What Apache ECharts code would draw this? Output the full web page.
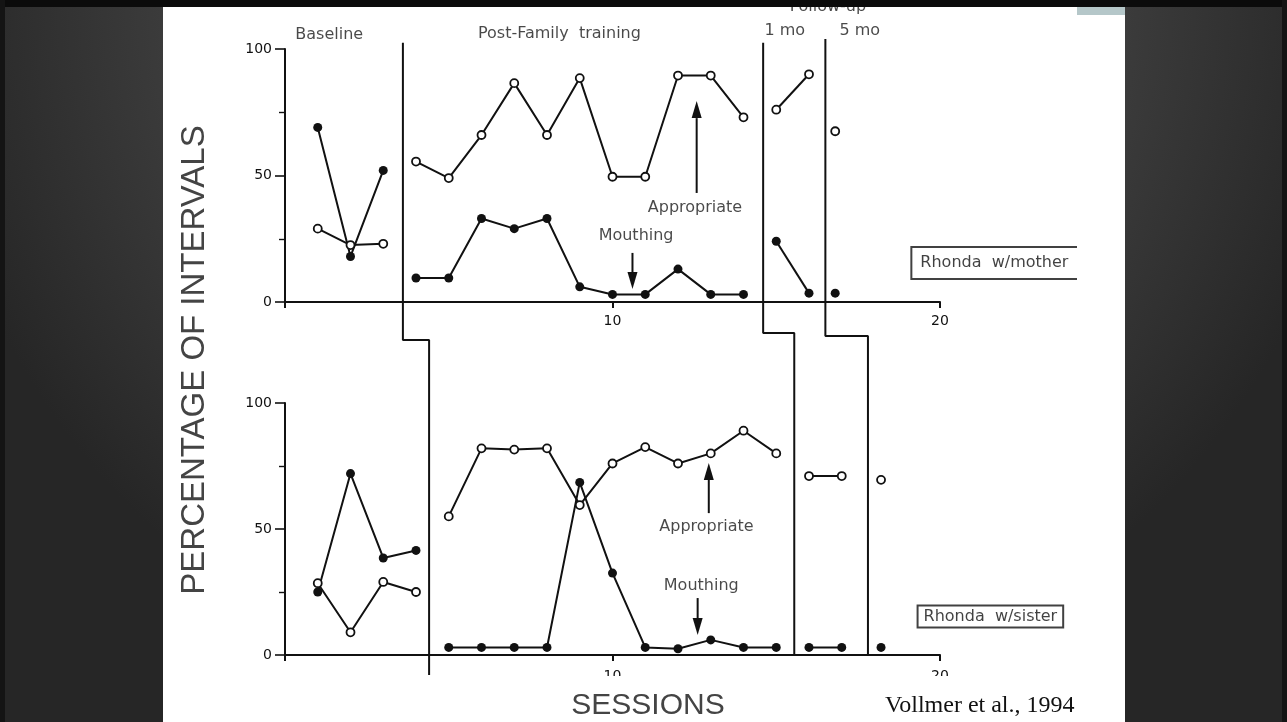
<!DOCTYPE html>
<html><head><meta charset="utf-8">
<script src="https://cdn.jsdelivr.net/npm/echarts@6/dist/echarts.min.js"></script>
<style>html,body{margin:0;padding:0;background:#2a2a2a;}#c{width:1287px;height:722px;}</style>
</head><body><div id="c"></div>
<script>
// ---------- Data ----------
// Rhonda w/mother (top panel)
const motherBaseSessions = [1, 2, 3];
const motherBaseMouthing = [69, 18, 52];
const motherBaseAppropriate = [29, 22.5, 23];
const motherPostSessions = [4, 5, 6, 7, 8, 9, 10, 11, 12, 13, 14];
const motherPostMouthing = [9.5, 9.5, 33, 29, 33, 6, 3, 3, 13, 3, 3];
const motherPostAppropriate = [55.5, 49, 66, 86.5, 66, 88.5, 49.5, 49.5, 89.5, 89.5, 73];
const mother1moSessions = [15, 16];
const mother1moMouthing = [24, 3.5];
const mother1moAppropriate = [76, 90];
const mother5moSessions = [16.8];
const mother5moMouthing = [3.5];
const mother5moAppropriate = [67.5];

// Rhonda w/sister (bottom panel)
const sisterBaseSessions = [1, 2, 3, 4];
const sisterBaseMouthing = [25, 72, 38.5, 41.5];
const sisterBaseAppropriate = [28.5, 9, 29, 25];
const sisterPostSessions = [5, 6, 7, 8, 9, 10, 11, 12, 13, 14, 15];
const sisterPostMouthing = [3, 3, 3, 3, 68.5, 32.5, 3, 2.5, 6, 3, 3];
const sisterPostAppropriate = [55, 82, 81.5, 82, 59.5, 76, 82.5, 76, 80, 89, 80];
const sister1moSessions = [16, 17];
const sister1moMouthing = [3, 3];
const sister1moAppropriate = [71, 71];
const sister5moSessions = [18.2];
const sister5moMouthing = [3];
const sister5moAppropriate = [69.5];

// Phase-change lines (session positions; y in top-panel units)
const phaseTopX = [3.6, 14.6, 16.5];
const phaseBottomX = [4.4, 15.55, 17.8];
const phaseTopY = [102.5, 102.5, 104];
const phaseStepY = [-15, -12.3, -13.4];
const phaseEndY = [-147.4, -139.5, -139.5];

// Tick labels
const xTickLabels = ['', '10', '20'];
const yTickLabels = ['0', '50', '100'];

// Phase labels (top panel)
const phaseLabels = ['Baseline', 'Post-Family  training', '1 mo', '5 mo', 'Follow-up'];
const phaseLabelX = [1.35, 8.38, 15.26, 17.55, 16.58];
const phaseLabelY = [105.5, 105.9, 107.1, 107.1, 116.6];

// Annotations
const motherNotes = ['Appropriate', 'Mouthing'];
const motherNoteX = [12.52, 10.72];
const motherNoteY = [37.2, 26.1];
const sisterNotes = ['Appropriate', 'Mouthing'];
const sisterNoteX = [12.87, 12.71];
const sisterNoteY = [50.8, 27.4];

// Arrows: [grid, x, from, to]
const arrowGrid = [0, 0, 1, 1];
const arrowX = [12.57, 10.61, 12.94, 12.6];
const arrowFrom = [43.1, 19.4, 56.3, 22.6];
const arrowTo = [79.4, 5.1, 76.2, 7.9];

// Panel identification boxes
const panelNames = ['Rhonda  w/mother', 'Rhonda  w/sister'];
const panelNameX = [19.11, 19.3];
const panelNameY = [15.4, 15.3];

// ---------- Chart ----------
const FONT = 'DejaVu Sans';
const INK = '#111';
function pts(xs, ys) { return xs.map((x, i) => [x, ys[i]]); }

function behavior(xs, ys, filled, g) {
  return {
    type: 'line', xAxisIndex: g, yAxisIndex: g, data: pts(xs, ys),
    symbol: 'circle', symbolSize: filled ? 9 : 8, showAllSymbol: true,
    itemStyle: filled ? { color: INK } : { color: '#fff', borderColor: INK, borderWidth: 1.8 },
    lineStyle: { color: INK, width: 2 }, z: filled ? 3 : 4, clip: false, silent: true
  };
}

function textSeries(names, xs, ys, g, extra) {
  return Object.assign({
    type: 'scatter', xAxisIndex: g, yAxisIndex: g, symbolSize: 1, clip: false, silent: true,
    itemStyle: { color: 'rgba(0,0,0,0)' },
    data: names.map((n, i) => ({ name: n, value: [xs[i], ys[i]] })),
    label: { show: true, position: 'inside', formatter: '{b}', fontFamily: FONT, fontSize: 16, color: '#1c1c1c' },
    z: 5
  }, extra || {});
}

const series = [];
[[motherBaseSessions, motherBaseMouthing, motherBaseAppropriate],
 [motherPostSessions, motherPostMouthing, motherPostAppropriate],
 [mother1moSessions, mother1moMouthing, mother1moAppropriate],
 [mother5moSessions, mother5moMouthing, mother5moAppropriate]].forEach(p => {
  series.push(behavior(p[0], p[1], true, 0));
  series.push(behavior(p[0], p[2], false, 0));
});
[[sisterBaseSessions, sisterBaseMouthing, sisterBaseAppropriate],
 [sisterPostSessions, sisterPostMouthing, sisterPostAppropriate],
 [sister1moSessions, sister1moMouthing, sister1moAppropriate],
 [sister5moSessions, sister5moMouthing, sister5moAppropriate]].forEach(p => {
  series.push(behavior(p[0], p[1], true, 1));
  series.push(behavior(p[0], p[2], false, 1));
});
phaseTopX.forEach((xt, i) => {
  series.push({
    type: 'line', xAxisIndex: 0, yAxisIndex: 0, symbol: 'none', clip: false, silent: true,
    data: [[xt, phaseTopY[i]], [xt, phaseStepY[i]], [phaseBottomX[i], phaseStepY[i]], [phaseBottomX[i], phaseEndY[i]]],
    lineStyle: { color: INK, width: 2 }, z: 2
  });
});
series.push(textSeries(phaseLabels, phaseLabelX, phaseLabelY, 0));
series.push(textSeries(motherNotes, motherNoteX, motherNoteY, 0));
series.push(textSeries(sisterNotes, sisterNoteX, sisterNoteY, 1));
[0, 1].forEach(g => {
  series.push(textSeries([panelNames[g]], [panelNameX[g]], [panelNameY[g]], g, {
    label: { show: true, position: 'right', distance: 0, formatter: '{b}', fontFamily: FONT, fontSize: 16,
      color: '#111', borderColor: INK, borderWidth: 2, padding: g === 0 ? [8, 12, 8, 9] : [3, 6, 3, 6] }
  }));
});

function xAxis(g) {
  return {
    type: 'value', gridIndex: g, min: 0, max: 20, interval: 10,
    axisLine: { show: true, lineStyle: { color: INK, width: 2 } },
    axisTick: { show: true, length: 6, lineStyle: { color: INK, width: 2 } },
    splitLine: { show: false },
    axisLabel: { formatter: v => xTickLabels[v / 10], margin: g === 0 ? 12 : 14, fontFamily: FONT, fontSize: 14, color: '#111' }
  };
}
function yAxis(g) {
  return {
    type: 'value', gridIndex: g, min: 0, max: 100, interval: 50,
    axisLine: { show: true, lineStyle: { color: INK, width: 2 } },
    axisTick: { show: true, length: 10, lineStyle: { color: INK, width: 1.6 } },
    minorTick: { show: true, splitNumber: 2, length: 6, lineStyle: { color: INK, width: 1.4 } },
    splitLine: { show: false }, minorSplitLine: { show: false },
    axisLabel: { formatter: v => yTickLabels[v / 50], margin: 13, fontFamily: FONT, fontSize: 14, color: '#111' }
  };
}

const chart = echarts.init(document.getElementById('c'), null, { renderer: 'canvas' });
chart.setOption({
  animation: false,
  grid: [{ left: 285, top: 49, width: 655, height: 253 }, { left: 285, top: 403, width: 655, height: 252 }],
  xAxis: [xAxis(0), xAxis(1)],
  yAxis: [yAxis(0), yAxis(1)],
  series: series
});

// decorations + arrows (arrow geometry converted from data coordinates)
const els = [
  { type: 'rect', z: -100, shape: { x: 0, y: 0, width: 1287, height: 722 },
    style: { fill: new echarts.graphic.RadialGradient(0.5, 0, 1, [
      { offset: 0, color: '#505050' }, { offset: 0.62, color: '#3e3e3e' }, { offset: 1, color: '#262626' }]) } },
  { type: 'rect', z: -99, shape: { x: 163, y: 0, width: 962, height: 722 }, style: { fill: '#ffffff' } },
  { type: 'rect', z: 100, shape: { x: 590, y: 676, width: 380, height: 14 }, style: { fill: '#ffffff' } },
  { type: 'rect', z: 100, shape: { x: 1077, y: 236, width: 48, height: 52 }, style: { fill: '#ffffff' } },
  { type: 'rect', z: 101, shape: { x: 1077, y: 7, width: 48, height: 8 }, style: { fill: '#b5c7c9' } },
  { type: 'rect', z: 102, shape: { x: 0, y: 0, width: 1287, height: 7 }, style: { fill: '#0b0b0b' } },
  { type: 'rect', z: 102, shape: { x: 0, y: 0, width: 5, height: 722 }, style: { fill: '#141414' } },
  { type: 'rect', z: 102, shape: { x: 1282, y: 0, width: 5, height: 722 }, style: { fill: '#141414' } },
  { type: 'text', z: 10, x: 195, y: 360, rotation: Math.PI / 2,
    style: { text: 'PERCENTAGE OF INTERVALS', font: '33px "Liberation Sans"', fill: '#444', align: 'center', verticalAlign: 'middle' } },
  { type: 'text', z: 10, x: 648, y: 706,
    style: { text: 'SESSIONS', font: '30px "Liberation Sans"', fill: '#444', align: 'center', verticalAlign: 'middle' } },
  { type: 'text', z: 10, x: 885, y: 706,
    style: { text: 'Vollmer et al., 1994', font: '24px "Liberation Serif"', fill: '#111', align: 'left', verticalAlign: 'middle' } }
];
arrowX.forEach((x, i) => {
  const p1 = chart.convertToPixel({ gridIndex: arrowGrid[i] }, [x, arrowFrom[i]]);
  const p2 = chart.convertToPixel({ gridIndex: arrowGrid[i] }, [x, arrowTo[i]]);
  const dir = p2[1] > p1[1] ? 1 : -1;
  const base = p2[1] - dir * 17;
  els.push({ type: 'line', z: 6, shape: { x1: p1[0], y1: p1[1], x2: p2[0], y2: base }, style: { stroke: INK, lineWidth: 2 } });
  els.push({ type: 'polygon', z: 6, shape: { points: [[p2[0], p2[1]], [p2[0] - 5, base], [p2[0] + 5, base]] }, style: { fill: INK } });
});
chart.setOption({ graphic: { elements: els } });
</script>
</body></html>
